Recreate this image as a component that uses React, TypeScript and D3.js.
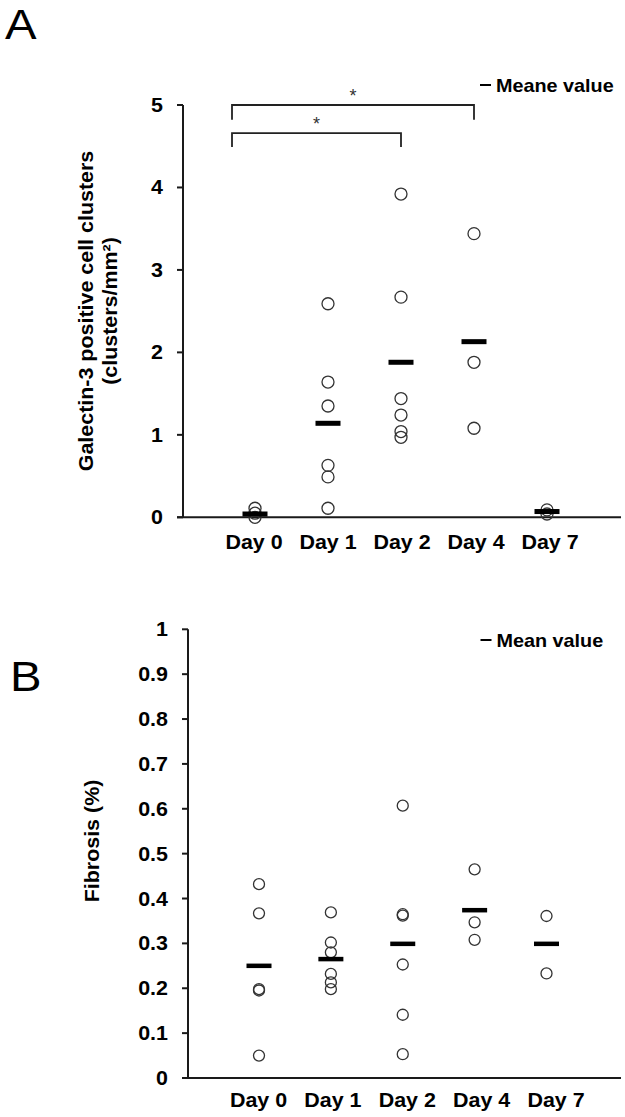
import React from "react";
import * as d3 from "d3";

// ---------- data ----------
const days = ["Day 0", "Day 1", "Day 2", "Day 4", "Day 7"];

const galectinDay0 = [0.11, 0.05, 0.0];
const galectinDay1 = [2.59, 1.64, 1.35, 0.63, 0.49, 0.11];
const galectinDay2 = [3.92, 2.67, 1.44, 1.24, 1.04, 0.97];
const galectinDay4 = [3.44, 1.88, 1.08];
const galectinDay7 = [0.09, 0.04];
const galectinMeans = [0.04, 1.14, 1.88, 2.13, 0.07];
const galectinTicks = [0, 1, 2, 3, 4, 5];

const fibrosisDay0 = [0.432, 0.367, 0.198, 0.195, 0.05];
const fibrosisDay1 = [0.369, 0.302, 0.28, 0.232, 0.213, 0.198];
const fibrosisDay2 = [0.607, 0.365, 0.362, 0.253, 0.141, 0.053];
const fibrosisDay4 = [0.465, 0.347, 0.308];
const fibrosisDay7 = [0.361, 0.233];
const fibrosisMeans = [0.25, 0.265, 0.299, 0.374, 0.299];
const fibrosisTicks = [0, 0.1, 0.2, 0.3, 0.4, 0.5, 0.6, 0.7, 0.8, 0.9, 1];

const sigFrom = ["Day 0", "Day 0"];
const sigTo = ["Day 4", "Day 2"];
const sigLevel = [5.0, 4.66];
const sigLeg = [0.18, 0.17];

const FONT = "'Liberation Sans', Arial, Helvetica, sans-serif";
const SX = 1.1;

function T(props: any) {
  const { x, y, size, anchor = "start", bold = true, rotate = 0, children, fill = "#000" } = props;
  return (
    <text
      transform={`translate(${x},${y}) rotate(${rotate}) scale(${SX},1)`}
      fontFamily={FONT}
      fontSize={size}
      fontWeight={bold ? "bold" : "normal"}
      textAnchor={anchor}
      fill={fill}
    >
      {children}
    </text>
  );
}

function Panel(props: any) {
  const {
    values, means, ticks, yDomain, yRange, axisX, xRange, labelRange, axisEnd,
    labelBaseline, r, barH, fmt, legendText, legendY, legendX, titleLines, titleXs, titleY,
  } = props;
  const y = d3.scaleLinear().domain(yDomain).range(yRange);
  const x = d3.scalePoint<string>().domain(days).range(xRange).padding(0);
  const xl = d3.scalePoint<string>().domain(days).range(labelRange).padding(0);
  const tickLen = 6;
  return (
    <g>
      <line x1={axisX} x2={axisX} y1={y(yDomain[0])} y2={y(yDomain[1])} stroke="#1a1a1a" strokeWidth={2} />
      {ticks.map((t: number) => (
        <g key={t}>
          <line x1={axisX - tickLen} x2={axisX} y1={y(t)} y2={y(t)} stroke="#1a1a1a" strokeWidth={2} />
          <T x={axisX - 20} y={y(t) + 7} size={19.5} anchor="end">{fmt(t)}</T>
        </g>
      ))}
      <line x1={axisX - tickLen} x2={axisEnd} y1={y(0)} y2={y(0)} stroke="#1a1a1a" strokeWidth={2} />
      {days.map((d) => (
        <T key={d} x={xl(d)} y={labelBaseline} size={19.5} anchor="middle">{d}</T>
      ))}
      {values.map((arr: number[], i: number) =>
        arr.map((v, j) => (
          <circle key={`${i}-${j}`} cx={x(days[i])} cy={y(v)} r={r} fill="none" stroke="#333" strokeWidth={1.3} />
        ))
      )}
      {means.map((m: number, i: number) => (
        <rect key={i} x={(x(days[i]) as number) - 12.5} y={y(m) - barH / 2} width={25} height={barH} fill="#000" />
      ))}
      <line x1={legendX} x2={legendX + 11} y1={legendY} y2={legendY} stroke="#000" strokeWidth={2} />
      <T x={legendX + 16} y={legendY + 6.5} size={18}>{legendText}</T>
      {titleLines.map((line: string, i: number) => (
        <T key={i} x={titleXs[i]} y={titleY} size={19.5} anchor="middle" rotate={-90}>{line}</T>
      ))}
      {props.children ? props.children(x, y) : null}
    </g>
  );
}

export default function App() {
  return (
    <svg width={625} height={1117} style={{ position: "absolute", left: 0, top: 0, background: "#fff" }}>
      <rect width={625} height={1117} fill="#fff" />
      <T x={5} y={39} size={43} bold={false}>A</T>
      <T x={10} y={691} size={43} bold={false}>B</T>

      <Panel
        values={[galectinDay0, galectinDay1, galectinDay2, galectinDay4, galectinDay7]}
        means={galectinMeans}
        ticks={galectinTicks}
        yDomain={[0, 5]}
        yRange={[517.3, 105]}
        axisX={183}
        xRange={[255, 547]}
        labelRange={[254, 550]}
        axisEnd={621}
        labelBaseline={549}
        r={6}
        barH={5}
        fmt={(t: number) => String(t)}
        legendText="Meane value"
        legendX={480}
        legendY={85}
        titleLines={["Galectin-3 positive cell clusters", "(clusters/mm²)"]}
        titleXs={[93, 117]}
        titleY={311}
      >
        {(x: any, y: any) =>
          sigFrom.map((f, i) => {
            const x1 = x(f) - 23;
            const x2 = x(sigTo[i]);
            const yt = y(sigLevel[i]);
            const yb = y(sigLevel[i] - sigLeg[i]);
            return (
              <g key={i}>
                <path d={`M${x1},${yb}V${yt}H${x2}V${yb}`} fill="none" stroke="#222" strokeWidth={1.8} />
                <text x={(x1 + x2) / 2} y={yt - 3} fontFamily={FONT} fontSize={18} textAnchor="middle" fill="#333">*</text>
              </g>
            );
          })
        }
      </Panel>

      <Panel
        values={[fibrosisDay0, fibrosisDay1, fibrosisDay2, fibrosisDay4, fibrosisDay7]}
        means={fibrosisMeans}
        ticks={fibrosisTicks}
        yDomain={[0, 1]}
        yRange={[1078, 629.3]}
        axisX={188}
        xRange={[259, 546.5]}
        labelRange={[258.5, 556]}
        axisEnd={621}
        labelBaseline={1107}
        r={5.5}
        barH={4.5}
        fmt={(t: number) => (t === 0 || t === 1 ? String(t) : d3.format(".1f")(t))}
        legendText="Mean value"
        legendX={480.5}
        legendY={640}
        titleLines={["Fibrosis (%)"]}
        titleXs={[99]}
        titleY={841}
      />
    </svg>
  );
}
